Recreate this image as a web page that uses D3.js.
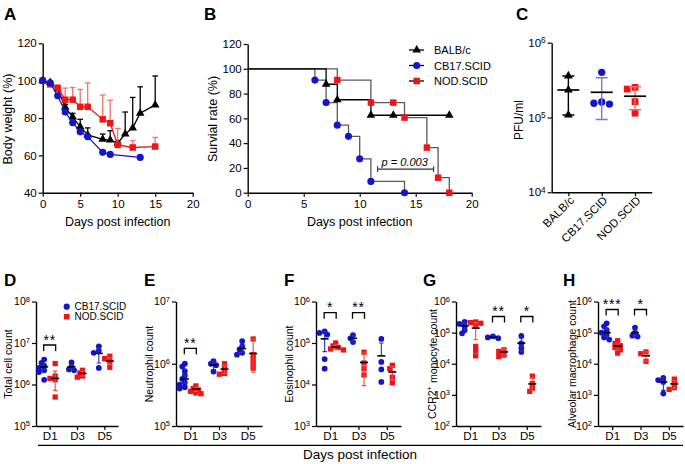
<!DOCTYPE html>
<html>
<head>
<meta charset="utf-8">
<script src="https://cdn.jsdelivr.net/npm/d3@7"></script>
<style>
  body { margin: 0; background: #fff; }
</style>
</head>
<body>
<div id="chart"></div>
<script>
const FONT = '"Liberation Sans", Arial, sans-serif';
const BLUE = '#1414c8';
const RED = '#f01414';

// ---- A: body weight ----
const daysBalb = [0, 1, 2, 3, 4, 5, 6, 8, 9, 10, 11, 12, 13, 15];
const weightBalb = [100, 99, 95.5, 85.8, 80.5, 75.3, 70.9, 68.6, 68.2, 66.5, 71.4, 74.7, 82.6, 87];
const errBalb = [0, 0.5, 1, 1.5, 2, 4, 3.8, 2.8, 5, 1, 11.8, 16.3, 14.1, 15.5];
const daysCb17 = [0, 1, 2, 3, 4, 5, 6, 8, 9, 13];
const weightCb17 = [100, 98.8, 91.9, 83.2, 77.5, 72.6, 70, 61.6, 60.5, 58.9];
const errCb17 = [0, 0.5, 1, 1, 1, 1.2, 1, 0.8, 0.8, 0.5];
const daysNod = [0, 1, 2, 3, 4, 5, 6, 8, 9, 10, 12, 15];
const weightNod = [100, 98, 96, 89.8, 89.8, 86, 86, 79.3, 77.2, 65.6, 64.2, 64.7];
const errNod = [0, 1, 1.7, 6.2, 6.5, 9.3, 12.8, 13, 12.3, 8.8, 3.7, 4.9];

// ---- B: survival ----
const survBalbDays = [0, 7, 8, 11, 13, 18];
const survBalb = [100, 87.5, 75, 62.5, 62.5, 62.5];
const survCb17Days = [0, 6, 7, 8, 9, 10, 11, 14];
const survCb17 = [100, 90.9, 72.7, 54.5, 45.5, 27.3, 9.1, 0];
const survNodDays = [0, 8, 11, 13, 14, 16, 17, 18];
const survNod = [100, 90.9, 72.7, 72.7, 60.6, 36.4, 12.1, 0];
const pSpan = [11.6, 16.6];
const pLevel = 19;
const pText = '0.003';

// ---- C: virus titre ----
const strains = ['BALB/c', 'CB17.SCID', 'NOD.SCID'];
const pfuBalb = [359000, 233000, 108000];
const pfuCb17 = [402000, 161000, 155000, 151000];
const pfuNod = [253000, 240000, 163000, 114000];

// ---- D-H: lung cells, D1 / D3 / D5 ----
const days = ['D1', 'D3', 'D5'];

const totalCb17 = [[4.0e6, 3.3e6, 2.8e6, 2.5e6, 2.2e6, 2.0e6, 1.3e6], [3.4e6, 2.7e6, 2.3e6, 2.2e6], [8.3e6, 6.5e6, 5.8e6, 2.5e6]];
const totalCb17Stat = [[2.67e6, 2.2e6, 3.2e6], [2.67e6, 2.4e6, 3.0e6], [5.6e6, 3.3e6, 7.3e6]];
const totalNod = [[3.2e6, 1.6e6, 1.4e6, 1.3e6, 5.0e5], [2.2e6, 1.9e6, 1.6e6, 1.5e6], [4.8e6, 4.2e6, 3.6e6, 2.6e6]];
const totalNodStat = [[1.4e6, 7.2e5, 2.1e6], [1.85e6, 1.6e6, 2.1e6], [3.67e6, 3.0e6, 4.4e6]];

const neutCb17 = [[1.0e6, 9.0e5, 7.6e5, 6.5e5, 5.7e5, 5.0e5, 4.6e5, 4.2e5, 4.0e5], [1.1e6, 1.0e6, 9.5e5, 7.5e5], [2.3e6, 1.9e6, 1.7e6, 1.5e6, 1.4e6]];
const neutCb17Stat = [[5.7e5, 4.9e5, 6.6e5], [9.5e5, 8.0e5, 1.08e6], [1.75e6, 1.5e6, 2.0e6]];
const neutNod = [[4.4e5, 4.0e5, 3.8e5, 3.6e5, 3.4e5, 3.3e5], [1.0e6, 8.3e5, 7.0e5, 6.8e5], [2.5e6, 1.4e6, 1.2e6, 1.0e6, 8.5e5]];
const neutNodStat = [[3.9e5, 3.6e5, 4.2e5], [8.2e5, 7.0e5, 9.5e5], [1.46e6, 7.3e5, 2.5e6]];

const eosCb17 = [[1.9e5, 1.75e5, 1.6e5, 4.1e4, 2.4e4], [1.55e5, 1.3e5, 1.05e5], [1.25e5, 3.5e4, 2.3e4, 1.15e4]];
const eosCb17Stat = [[1.26e5, 6.2e4, 1.9e5], [1.3e5, 1.1e5, 1.5e5], [4.9e4, 4.9e4, 1.0e5]];
const eosNod = [[1.0e5, 8.5e4, 7.8e4, 7.2e4, 6.8e4], [6.0e4, 3.3e4, 2.4e4, 1.7e4], [2.9e4, 2.4e4, 1.5e4, 1.1e4]];
const eosNodStat = [[7.9e4, 7.0e4, 9.0e4], [3.4e4, 9.4e3, 5.8e4], [2.0e4, 1.3e4, 2.7e4]];

const monoCb17 = [[2.2e5, 1.9e5, 1.6e5, 1.2e5, 9.5e4], [7.6e4, 7.0e4, 6.6e4], [7.8e4, 4.5e4, 3.2e4, 2.4e4]];
const monoCb17Stat = [[1.65e5, 1.2e5, 2.1e5], [7.1e4, 6.5e4, 7.7e4], [4.6e4, 2.5e4, 6.7e4]];
const monoNod = [[2.2e5, 2.1e5, 2.0e5, 1.8e5, 3.6e4, 2.7e4, 1.8e4], [2.8e4, 2.5e4, 1.9e4, 1.7e4], [4.0e3, 2.3e3, 1.6e3, 1.3e3]];
const monoNodStat = [[1.4e5, 5.9e4, 2.1e5], [2.4e4, 1.8e4, 3.0e4], [2.25e3, 1.4e3, 3.6e3]];

const macCb17 = [[2.0e5, 1.6e5, 1.2e5, 1.0e5, 8.5e4, 7.0e4, 6.0e4], [1.45e5, 1.0e5, 8.0e4, 7.5e4], [3.5e3, 3.0e3, 2.6e3, 1.1e3]];
const macCb17Stat = [[1.0e5, 7.5e4, 1.4e5], [1.0e5, 8.0e4, 1.25e5], [2.6e3, 1.4e3, 3.7e3]];
const macNod = [[5.5e4, 4.5e4, 3.8e4, 3.3e4, 2.8e4, 2.2e4], [2.4e4, 2.1e4, 1.2e4], [3.2e3, 2.4e3, 1.7e3, 1.5e3]];
const macNodStat = [[3.7e4, 2.8e4, 4.6e4], [1.8e4, 1.2e4, 2.4e4], [2.25e3, 1.6e3, 2.9e3]];

const sigTotal = [['D1', '**']];
const sigNeut = [['D1', '**']];
const sigEos = [['D1', '*'], ['D3', '**']];
const sigMono = [['D3', '**'], ['D5', '*']];
const sigMac = [['D1', '***'], ['D3', '*']];

const svg = d3.select('#chart').append('svg')
    .attr('width', 685)
    .attr('height', 464)
    .style('font-family', FONT);

function tidyAxis(g, fs) {
    g.attr('font-family', FONT).attr('font-size', fs);
    g.select('.domain').attr('stroke', '#000').attr('stroke-width', 1.4);
    g.selectAll('.tick line').attr('stroke', '#000').attr('stroke-width', 1.2);
    g.selectAll('.tick text').attr('fill', '#000');
}

function powerLabels(g, fs) {
    g.selectAll('.tick text').text(null).each(function (d) {
        const t = d3.select(this);
        t.append('tspan').text('10');
        t.append('tspan')
            .attr('dy', '-0.45em')
            .attr('font-size', fs * 0.72)
            .text(Math.round(Math.log10(d)));
    });
}

function panelLetter(txt, x, y) {
    svg.append('text').attr('x', x).attr('y', y)
        .attr('font-size', 17).attr('font-weight', 'bold').text(txt);
}

function yTitle(txt, x, y, fs) {
    return svg.append('text')
        .attr('transform', `translate(${x},${y}) rotate(-90)`)
        .attr('text-anchor', 'middle')
        .attr('dominant-baseline', 'central')
        .attr('font-size', fs)
        .text(txt);
}

function sym(type, size) {
    return d3.symbol().type(type).size(size)();
}

// spread points of similar value sideways, like a column scatter
function swarm(values, y, cx, step, minDist) {
    const placed = [];
    return values.map(v => {
        const py = y(v);
        let px = cx;
        for (const o of [0, -step, step, -2 * step, 2 * step, -3 * step, 3 * step]) {
            if (placed.every(p => Math.hypot(p.x - (cx + o), p.y - py) >= minDist)) {
                px = cx + o;
                break;
            }
        }
        placed.push({ x: px, y: py });
        return { x: px, y: py };
    });
}

// ================= A =================
function drawA() {
    const x = d3.scaleLinear([0, 20], [42.7, 192.7]);
    const y = d3.scaleLinear([40, 120], [192.7, 43.3]);

    svg.append('g').attr('transform', `translate(0,${y(40)})`)
        .call(d3.axisBottom(x).tickValues([0, 5, 10, 15, 20]).tickSize(4).tickPadding(3).tickSizeOuter(0))
        .call(g => tidyAxis(g, 11.5));
    svg.append('g').attr('transform', `translate(${x(0)},0)`)
        .call(d3.axisLeft(y).tickValues([40, 60, 80, 100, 120]).tickSize(4).tickPadding(2).tickSizeOuter(0))
        .call(g => tidyAxis(g, 11.5));

    const series = [
        { d: daysBalb, v: weightBalb, e: errBalb, color: '#000', errColor: '#000', type: d3.symbolTriangle, size: 32 },
        { d: daysNod, v: weightNod, e: errNod, color: RED, errColor: '#f27272', type: d3.symbolSquare, size: 42 },
        { d: daysCb17, v: weightCb17, e: errCb17, color: BLUE, errColor: BLUE, type: d3.symbolCircle, size: 40 }
    ];

    series.forEach(s => {
        const pts = s.d.map((dd, i) => ({ day: dd, val: s.v[i], err: s.e[i] }));
        const g = svg.append('g');
        g.selectAll('line.err').data(pts).enter().append('line')
            .attr('x1', p => x(p.day)).attr('x2', p => x(p.day))
            .attr('y1', p => y(p.val)).attr('y2', p => y(p.val + p.err))
            .attr('stroke', s.errColor).attr('stroke-width', 1.3);
        g.selectAll('line.cap').data(pts).enter().append('line')
            .attr('x1', p => x(p.day) - 2.8).attr('x2', p => x(p.day) + 2.8)
            .attr('y1', p => y(p.val + p.err)).attr('y2', p => y(p.val + p.err))
            .attr('stroke', s.errColor).attr('stroke-width', 1.3);
        g.append('path').datum(pts)
            .attr('d', d3.line().x(p => x(p.day)).y(p => y(p.val)))
            .attr('fill', 'none').attr('stroke', s.color).attr('stroke-width', 1.3);
        g.selectAll('path.m').data(pts).enter().append('path')
            .attr('d', sym(s.type, s.size))
            .attr('transform', p => `translate(${x(p.day)},${y(p.val)})`)
            .attr('fill', s.color);
    });

    yTitle('Body weight (%)', 8, 119, 12.5);
    svg.append('text').attr('x', 117.7).attr('y', 226).attr('text-anchor', 'middle')
        .attr('font-size', 12.5).text('Days post infection');
    panelLetter('A', 4, 20);
}

// ================= B =================
function drawB() {
    const x = d3.scaleLinear([0, 20], [247.7, 471.7]);
    const y = d3.scaleLinear([0, 120], [192.7, 44]);

    svg.append('g').attr('transform', `translate(0,${y(0)})`)
        .call(d3.axisBottom(x).tickValues([0, 5, 10, 15, 20]).tickSize(4).tickPadding(3).tickSizeOuter(0))
        .call(g => tidyAxis(g, 11.5));
    svg.append('g').attr('transform', `translate(${x(0)},0)`)
        .call(d3.axisLeft(y).tickValues([0, 20, 40, 60, 80, 100, 120]).tickSize(4).tickPadding(2).tickSizeOuter(0))
        .call(g => tidyAxis(g, 11.5));

    const series = [
        { d: survNodDays, v: survNod, color: RED, line: '#5a5a5a', type: d3.symbolSquare, size: 42 },
        { d: survCb17Days, v: survCb17, color: BLUE, line: '#5a5a5a', type: d3.symbolCircle, size: 40 },
        { d: survBalbDays, v: survBalb, color: '#000', line: '#000', type: d3.symbolTriangle, size: 32 }
    ];

    series.forEach(s => {
        const pts = s.d.map((dd, i) => ({ day: dd, val: s.v[i] }));
        svg.append('path').datum(pts)
            .attr('d', d3.line().x(p => x(p.day)).y(p => y(p.val)).curve(d3.curveStepAfter))
            .attr('fill', 'none').attr('stroke', s.line).attr('stroke-width', 1.3);
    });
    series.forEach(s => {
        const pts = s.d.map((dd, i) => ({ day: dd, val: s.v[i] })).slice(1);
        svg.selectAll(null).data(pts).enter().append('path')
            .attr('d', sym(s.type, s.size))
            .attr('transform', p => `translate(${x(p.day)},${y(p.val)})`)
            .attr('fill', s.color);
    });

    // p value bracket
    const py = y(pLevel);
    svg.append('path')
        .attr('d', `M${x(pSpan[0])},${py - 2.8}V${py + 2.8}M${x(pSpan[0])},${py}H${x(pSpan[1])}M${x(pSpan[1])},${py - 2.8}V${py + 2.8}`)
        .attr('stroke', '#333').attr('stroke-width', 1.1).attr('fill', 'none');
    const pt = svg.append('text').attr('x', x(pSpan[0]) + 4).attr('y', py - 3)
        .attr('font-size', 11).attr('font-style', 'italic');
    pt.append('tspan').text('p =  ');
    pt.append('tspan').text(pText);

    // legend
    const legend = [
        { label: 'BALB/c', color: '#000', type: d3.symbolTriangle, size: 32 },
        { label: 'CB17.SCID', color: BLUE, type: d3.symbolCircle, size: 40 },
        { label: 'NOD.SCID', color: RED, type: d3.symbolSquare, size: 42 }
    ];
    legend.forEach((l, i) => {
        const ly = 50 + i * 15.5;
        svg.append('line').attr('x1', 409).attr('x2', 424).attr('y1', ly).attr('y2', ly)
            .attr('stroke', '#000').attr('stroke-width', 1.3);
        svg.append('path').attr('d', sym(l.type, l.size))
            .attr('transform', `translate(416.7,${ly})`).attr('fill', l.color);
        svg.append('text').attr('x', 434).attr('y', ly).attr('dominant-baseline', 'central')
            .attr('font-size', 11).text(l.label);
    });

    yTitle('Survial rate (%)', 213, 119, 12.5);
    svg.append('text').attr('x', 359.7).attr('y', 226).attr('text-anchor', 'middle')
        .attr('font-size', 12.5).text('Days post infection');
    panelLetter('B', 204, 20);
}

// ================= C =================
function drawC() {
    const y = d3.scaleLog([1e4, 1e6], [192.3, 42.7]);
    const x = d3.scalePoint(strains, [551.7, 651.7]).padding(0.5);

    svg.append('g').attr('transform', `translate(0,192.3)`)
        .call(d3.axisBottom(x).tickSize(4).tickSizeOuter(0))
        .call(g => tidyAxis(g, 11.5))
        .call(g => g.selectAll('.tick text')
            .attr('text-anchor', 'end')
            .attr('transform', 'translate(3,6) rotate(-45)')
            .attr('y', 0).attr('dy', '0.35em'));
    svg.append('g').attr('transform', `translate(551.7,0)`)
        .call(d3.axisLeft(y).tickValues([1e4, 1e5, 1e6]).tickSize(4).tickPadding(2).tickSizeOuter(0))
        .call(g => tidyAxis(g, 11.5))
        .call(g => powerLabels(g, 11.5));

    const groups = [
        { k: 'BALB/c', vals: pfuBalb, color: '#000', errColor: '#000', type: d3.symbolTriangle, size: 34 },
        { k: 'CB17.SCID', vals: pfuCb17, color: BLUE, errColor: '#6f7fcf', type: d3.symbolCircle, size: 42 },
        { k: 'NOD.SCID', vals: pfuNod, color: RED, errColor: '#f26a6a', type: d3.symbolSquare, size: 46 }
    ];
    groups.forEach(gr => {
        const cx = x(gr.k);
        const m = d3.mean(gr.vals);
        const sd = d3.deviation(gr.vals);
        const pts = swarm(gr.vals, y, cx, 7.8, 6.5);
        svg.selectAll(null).data(pts).enter().append('path')
            .attr('d', sym(gr.type, gr.size))
            .attr('transform', p => `translate(${p.x},${p.y})`)
            .attr('fill', gr.color);
        svg.append('path')
            .attr('d', `M${cx},${y(m - sd)}V${y(m + sd)}M${cx - 6},${y(m + sd)}H${cx + 6}M${cx - 6},${y(m - sd)}H${cx + 6}`)
            .attr('stroke', gr.errColor).attr('stroke-width', 1.4).attr('fill', 'none');
        svg.append('line').attr('x1', cx - 11).attr('x2', cx + 11)
            .attr('y1', y(m)).attr('y2', y(m))
            .attr('stroke', '#000').attr('stroke-width', 1.7);
    });

    yTitle('PFU/ml', 519, 120, 12);
    panelLetter('C', 516, 20);
}

// ================= D-H =================
const bottomLayout = [
    { letter: 'D', left: 36, right: 118, domain: [1e5, 1e8], title: ['Total cell count'], tx: 8, lx: 4, sigY: 345 },
    { letter: 'E', left: 176, right: 262, domain: [1e5, 1e7], title: ['Neutrophil count'], tx: 148.5, lx: 144, sigY: 348.3 },
    { letter: 'F', left: 316, right: 401, domain: [1e3, 1e6], title: ['Eosinophil count'], tx: 288.5, lx: 284, sigY: 312.7 },
    { letter: 'G', left: 456, right: 541, domain: [1e2, 1e6], title: ['CCR2', '+', ' monocyte count'], tx: 431.5, lx: 423, sigY: 316.5 },
    { letter: 'H', left: 598, right: 683, domain: [1e2, 1e6], title: ['Alveolar macrophage count'], tx: 571.5, lx: 563, sigY: 309.5 }
];

function drawBottom(L, cbPts, cbStat, nodPts, nodStat, sig) {
    const top = 301.5, bottom = 426;
    const y = d3.scaleLog(L.domain, [bottom, top]);
    const x = d3.scalePoint(days, [L.left, L.right]).padding(0.5);
    const lo = Math.round(Math.log10(L.domain[0]));
    const hi = Math.round(Math.log10(L.domain[1]));
    const decades = d3.range(lo, hi + 1).map(e => Math.pow(10, e));

    svg.append('g').attr('transform', `translate(0,${bottom})`)
        .call(d3.axisBottom(x).tickSize(4).tickPadding(2).tickSizeOuter(0))
        .call(g => tidyAxis(g, 11.5));
    svg.append('g').attr('transform', `translate(${L.left},0)`)
        .call(d3.axisLeft(y).tickValues(decades).tickSize(4).tickPadding(2).tickSizeOuter(0))
        .call(g => tidyAxis(g, 10.5))
        .call(g => powerLabels(g, 10.5));

    const series = [
        { pts: cbPts, stat: cbStat, off: -5.5, color: BLUE, errColor: '#2030c0', type: d3.symbolCircle, size: 26 },
        { pts: nodPts, stat: nodStat, off: 5.5, color: RED, errColor: '#f04848', type: d3.symbolSquare, size: 28 }
    ];
    series.forEach(s => {
        days.forEach((dd, i) => {
            const cx = x(dd) + s.off;
            const placed = swarm(s.pts[i], y, cx, 2.6, 3.6);
            svg.selectAll(null).data(placed).enter().append('path')
                .attr('d', sym(s.type, s.size))
                .attr('transform', p => `translate(${p.x},${p.y})`)
                .attr('fill', s.color);
        });
    });
    series.forEach(s => {
        days.forEach((dd, i) => {
            const cx = x(dd) + s.off;
            const [m, eLo, eHi] = s.stat[i];
            let d = `M${cx},${y(eLo)}V${y(eHi)}M${cx - 2.2},${y(eHi)}H${cx + 2.2}`;
            if (eLo < m) d += `M${cx - 2.2},${y(eLo)}H${cx + 2.2}`;
            svg.append('path').attr('d', d)
                .attr('stroke', s.errColor).attr('stroke-width', 1.1).attr('fill', 'none');
            svg.append('line').attr('x1', cx - 4).attr('x2', cx + 4)
                .attr('y1', y(m)).attr('y2', y(m))
                .attr('stroke', '#000').attr('stroke-width', 1.6);
        });
    });

    sig.forEach(([dd, stars]) => {
        const x1 = x(dd) - 6, x2 = x(dd) + 6, by = L.sigY;
        svg.append('path').attr('d', `M${x1},${by + 6}V${by}H${x2}V${by + 6}`)
            .attr('stroke', '#000').attr('stroke-width', 1.3).attr('fill', 'none');
        svg.append('text').attr('x', x(dd)).attr('y', by - 0.5).attr('text-anchor', 'middle')
            .attr('font-size', 14).attr('letter-spacing', 0.8).text(stars);
    });

    const t = yTitle('', L.tx, 364, 10.5).text(null);
    L.title.forEach((part, i) => {
        const ts = t.append('tspan').text(part);
        if (L.title.length === 3 && i === 1) ts.attr('dy', '-0.4em').attr('font-size', 7.5);
        if (L.title.length === 3 && i === 2) ts.attr('dy', '0.4em');
    });
    panelLetter(L.letter, L.lx, 286);
}

drawA();
drawB();
drawC();
drawBottom(bottomLayout[0], totalCb17, totalCb17Stat, totalNod, totalNodStat, sigTotal);
drawBottom(bottomLayout[1], neutCb17, neutCb17Stat, neutNod, neutNodStat, sigNeut);
drawBottom(bottomLayout[2], eosCb17, eosCb17Stat, eosNod, eosNodStat, sigEos);
drawBottom(bottomLayout[3], monoCb17, monoCb17Stat, monoNod, monoNodStat, sigMono);
drawBottom(bottomLayout[4], macCb17, macCb17Stat, macNod, macNodStat, sigMac);

// legend in D
svg.append('path').attr('d', sym(d3.symbolCircle, 30)).attr('transform', 'translate(66.7,306.7)').attr('fill', BLUE);
svg.append('text').attr('x', 74.5).attr('y', 306.7).attr('dominant-baseline', 'central').attr('font-size', 10).text('CB17.SCID');
svg.append('path').attr('d', sym(d3.symbolSquare, 32)).attr('transform', 'translate(66.7,316.7)').attr('fill', RED);
svg.append('text').attr('x', 74.5).attr('y', 316.7).attr('dominant-baseline', 'central').attr('font-size', 10).text('NOD.SCID');

// shared x title under D-H
svg.append('line').attr('x1', 38).attr('x2', 683).attr('y1', 445.3).attr('y2', 445.3)
    .attr('stroke', '#000').attr('stroke-width', 1.2);
svg.append('text').attr('x', 360).attr('y', 459).attr('text-anchor', 'middle')
    .attr('font-size', 13.5).text('Days post infection');
</script>
</body>
</html>
